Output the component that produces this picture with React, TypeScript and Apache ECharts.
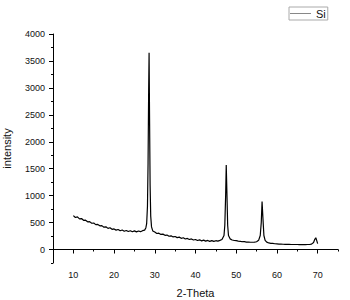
import React, { useEffect, useRef } from "react";
import * as echarts from "echarts";

const twoTheta: number[] = [
  10, 10.5, 11, 11.5, 12, 12.5, 13, 13.5, 14, 14.5, 15, 15.5, 16, 16.5, 17, 17.5, 18, 18.5, 19, 19.5,
  20, 20.5, 21, 21.5, 22, 22.5, 23, 23.5, 24, 24.5, 25, 25.5, 26, 26.5, 27, 27.5, 27.8, 28.0, 28.2, 28.35,
  28.5, 28.6, 28.7, 28.85, 29.0, 29.2, 29.5, 30, 30.5, 31, 31.5, 32, 32.5, 33, 33.5, 34, 34.5, 35, 35.5, 36,
  36.5, 37, 37.5, 38, 38.5, 39, 39.5, 40, 40.5, 41, 41.5, 42, 42.5, 43, 43.5, 44, 44.5, 45, 45.5, 46,
  46.5, 47, 47.2, 47.4, 47.55, 47.7, 47.9, 48.1, 48.5, 49, 49.5, 50, 50.5, 51, 51.5, 52, 52.5, 53, 53.5, 54,
  54.5, 55, 55.5, 55.9, 56.15, 56.35, 56.55, 56.8, 57.1, 57.5, 58, 58.5, 59, 59.5, 60, 60.5, 61, 61.5, 62, 62.5,
  63, 63.5, 64, 64.5, 65, 65.5, 66, 66.5, 67, 67.5, 68, 68.5, 69, 69.3, 69.55, 69.8, 70,
];

const intensity: number[] = [
  630, 595, 605, 570, 575, 542, 545, 515, 518, 488, 492, 462, 466, 440, 444, 415, 422, 393, 404, 375,
  383, 360, 372, 348, 362, 340, 354, 334, 349, 330, 346, 328, 343, 331, 350, 360, 400, 480, 800, 1600,
  3000, 3650, 2600, 1200, 620, 420, 345, 325, 298, 304, 281, 286, 264, 269, 246, 254, 234, 242, 221, 230,
  208, 218, 196, 206, 186, 197, 176, 187, 168, 180, 161, 174, 156, 169, 152, 166, 151, 164, 156, 170,
  185, 260, 450, 1000, 1570, 1100, 450, 260, 198, 177, 168, 165, 155, 152, 145, 145, 139, 139, 135, 135,
  138, 145, 170, 260, 500, 890, 600, 260, 170, 138, 122, 115, 113, 107, 105, 101, 101, 98, 97, 95,
  95, 93, 93, 93, 93, 91, 92, 91, 92, 93, 93, 100, 130, 190, 218, 160, 110,
];

const xMajorTicks: number[] = [10, 20, 30, 40, 50, 60, 70];
const yMajorTicks: number[] = [0, 500, 1000, 1500, 2000, 2500, 3000, 3500, 4000];
const seriesName = "Si";

export default function App() {
  const ref = useRef<HTMLDivElement>(null);
  useEffect(() => {
    if (!ref.current) return;
    const chart = echarts.init(ref.current, undefined, { renderer: "svg" });
    const font = "'Liberation Sans', Arial, sans-serif";
    const axisLine = { show: true, lineStyle: { color: "#000", width: 1 } };
    chart.setOption({
      animation: false,
      backgroundColor: "#fff",
      textStyle: { fontFamily: font },
      grid: { left: 53, right: 12, top: 34, bottom: 37, containLabel: false, outerBoundsMode: "none" },
      legend: {
        left: 289,
        top: 7,
        data: [seriesName],
        icon: "rect",
        itemWidth: 21,
        itemHeight: 1,
        itemStyle: { color: "#888" },
        borderColor: "#aaa",
        borderWidth: 1,
        padding: [1, 2, 1, 1],
        textStyle: { fontSize: 11, color: "#111", fontFamily: font },
      },
      xAxis: [
        {
          type: "value",
          min: 5,
          max: 75,
          interval: 5,
          name: "2-Theta",
          nameLocation: "middle",
          nameGap: 24,
          nameTextStyle: { fontSize: 11, color: "#111", fontFamily: font },
          axisLine,
          axisTick: { show: true, length: 2, lineStyle: { color: "#000" } },
          axisLabel: {
            fontSize: 9,
            color: "#111",
            margin: 7,
            formatter: (v: number) => (v % 10 === 0 ? String(v) : ""),
          },
          splitLine: { show: false },
        },
        {
          type: "value",
          position: "bottom",
          min: 5,
          max: 75,
          axisLine: { show: false },
          axisTick: { show: true, length: 4, customValues: xMajorTicks, lineStyle: { color: "#000" } },
          axisLabel: { show: false },
          splitLine: { show: false },
        },
      ],
      yAxis: [
        {
          type: "value",
          min: -250,
          max: 4000,
          interval: 250,
          name: "intensity",
          nameLocation: "middle",
          nameGap: 41,
          nameTextStyle: { fontSize: 11, color: "#111", fontFamily: font },
          axisLine,
          axisTick: { show: true, length: 2, lineStyle: { color: "#000" } },
          axisLabel: {
            fontSize: 9,
            color: "#111",
            margin: 8,
            formatter: (v: number) => (v % 500 === 0 ? String(v) : ""),
          },
          splitLine: { show: false },
        },
        {
          type: "value",
          position: "left",
          min: -250,
          max: 4000,
          axisLine: { show: false },
          axisTick: { show: true, length: 4, customValues: yMajorTicks, lineStyle: { color: "#000" } },
          axisLabel: { show: false },
          splitLine: { show: false },
        },
      ],
      series: [
        {
          name: seriesName,
          type: "line",
          xAxisIndex: 0,
          yAxisIndex: 0,
          data: twoTheta.map((t, i) => [t, intensity[i]]),
          showSymbol: false,
          lineStyle: { color: "#000", width: 1.2 },
          itemStyle: { color: "#000" },
        },
      ],
    });
    return () => chart.dispose();
  }, []);
  return (
    <div
      ref={ref}
      style={{ position: "fixed", left: 0, top: 0, width: 350, height: 300 }}
    />
  );
}
